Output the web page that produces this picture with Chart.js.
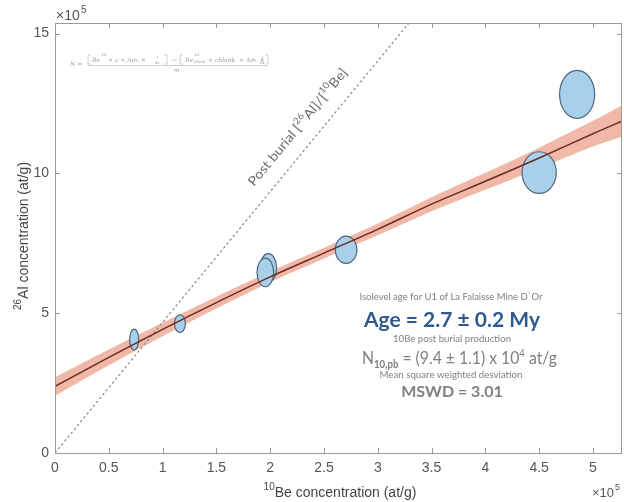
<!DOCTYPE html>
<html>
<head>
<meta charset="utf-8">
<script src="https://cdn.jsdelivr.net/npm/chart.js@4.4.1/dist/chart.umd.min.js"></script>
<style>
  html, body { margin: 0; padding: 0; background: #fff; }
  #wrap { width: 624px; height: 502px; position: relative; }
</style>
</head>
<body>
<div id="wrap"><canvas id="isochron" width="624" height="502"></canvas></div>
<script>
// samples (x in 1e5 at/g of 10Be, y in 1e5 at/g of 26Al) and their error half-axes
const beX   = [0.736, 1.161, 1.983, 1.955, 2.706, 4.50, 4.853];
const alY   = [4.06, 4.625, 6.62, 6.46, 7.27, 10.03, 12.825];
const beErr = [0.042, 0.051, 0.077, 0.077, 0.10, 0.159, 0.163];
const alErr = [0.37, 0.316, 0.51, 0.51, 0.49, 0.745, 0.86];

// isochron fit and its envelope
const fitX      = [0, 0.5, 1, 1.5, 2, 2.5, 3, 3.5, 4, 4.5, 5, 5.3];
const fitY      = [2.38, 3.42, 4.42, 5.38, 6.3, 7.15, 8.0, 8.9, 9.72, 10.55, 11.42, 11.92];
const bandUpper = [2.71, 3.70, 4.66, 5.59, 6.49, 7.34, 8.21, 9.15, 10.02, 10.92, 11.88, 12.49];
const bandLower = [2.05, 3.14, 4.18, 5.17, 6.11, 6.96, 7.79, 8.65, 9.42, 10.18, 10.96, 11.35];

// post burial ratio line
const ratioX = [0, 3.29];
const ratioY = [0, 15.38];

// tick values
const xTicks = [0, 0.5, 1, 1.5, 2, 2.5, 3, 3.5, 4, 4.5, 5];
const yTicks = [0, 5, 10, 15];

const pts = (xs, ys) => xs.map((x, i) => ({ x: x, y: ys[i] }));

function fixedTicks(values) {
    return function(scale) {
        scale.ticks = values.map(v => ({ value: v }));
    };
}

const axisGray = '#9a9a9a';
const labelGray = '#555';

// error ellipses, drawn just before the fitted line
const ellipsePlugin = {
    id: 'ellipses',
    beforeDatasetDraw(chart, args) {
        if (args.meta.label !== 'fit') return;
        const { ctx, chartArea, scales } = chart;
        ctx.save();
        ctx.beginPath();
        ctx.rect(chartArea.left, chartArea.top, chartArea.right - chartArea.left, chartArea.bottom - chartArea.top);
        ctx.clip();
        beX.forEach((x, i) => {
            const cx = scales.x.getPixelForValue(x);
            const cy = scales.y.getPixelForValue(alY[i]);
            const rx = Math.abs(scales.x.getPixelForValue(x + beErr[i]) - cx);
            const ry = Math.abs(scales.y.getPixelForValue(alY[i] + alErr[i]) - cy);
            ctx.beginPath();
            ctx.ellipse(cx, cy, rx, ry, 0, 0, Math.PI * 2);
            ctx.fillStyle = '#a9d0ea';
            ctx.fill();
            ctx.lineWidth = 1.2;
            ctx.strokeStyle = '#4d6577';
            ctx.stroke();
        });
        ctx.restore();
    }
};

// box, inward ticks, titles and annotation text
const decorPlugin = {
    id: 'decor',
    afterDraw(chart) {
        const { ctx, chartArea: a, scales } = chart;
        ctx.save();
        ctx.strokeStyle = axisGray;
        ctx.lineWidth = 1;
        ctx.strokeRect(a.left + 0.5, a.top + 0.5, a.right - a.left - 1, a.bottom - a.top);
        ctx.beginPath();
        scales.x.ticks.forEach(t => {
            const px = Math.round(scales.x.getPixelForValue(t.value)) + 0.5;
            ctx.moveTo(px, a.bottom); ctx.lineTo(px, a.bottom - 5);
            ctx.moveTo(px, a.top); ctx.lineTo(px, a.top + 5);
        });
        scales.y.ticks.forEach(t => {
            const py = Math.round(scales.y.getPixelForValue(t.value)) + 0.5;
            ctx.moveTo(a.left, py); ctx.lineTo(a.left + 5, py);
            ctx.moveTo(a.right, py); ctx.lineTo(a.right - 5, py);
        });
        ctx.stroke();

        // exponent marks
        ctx.fillStyle = labelGray;
        ctx.textBaseline = 'alphabetic';
        ctx.textAlign = 'left';
        ctx.font = '14px "Liberation Sans"';
        ctx.fillText('\u00d710', 56, 20);
        ctx.font = '10px "Liberation Sans"';
        ctx.fillText('5', 81, 13);
        ctx.font = '13px "Liberation Sans"';
        ctx.fillText('\u00d710', 592, 497);
        ctx.font = '9px "Liberation Sans"';
        ctx.fillText('5', 615, 490);

        // axis titles
        ctx.fillStyle = '#444';
        ctx.font = '10px "Liberation Sans"';
        let w1 = ctx.measureText('10').width;
        ctx.font = '14px "Liberation Sans"';
        let w2 = ctx.measureText('Be concentration (at/g)').width;
        let sx = 340 - (w1 + w2) / 2;
        ctx.font = '10px "Liberation Sans"';
        ctx.fillText('10', sx, 490);
        ctx.font = '14px "Liberation Sans"';
        ctx.fillText('Be concentration (at/g)', sx + w1, 497);

        ctx.save();
        ctx.translate(28, 236);
        ctx.rotate(-Math.PI / 2);
        ctx.font = '10px "Liberation Sans"';
        w1 = ctx.measureText('26').width;
        ctx.font = '14px "Liberation Sans"';
        w2 = ctx.measureText('Al concentration (at/g)').width;
        sx = -(w1 + w2) / 2;
        ctx.font = '10px "Liberation Sans"';
        ctx.fillText('26', sx, -7);
        ctx.font = '14px "Liberation Sans"';
        ctx.fillText('Al concentration (at/g)', sx + w1, 0);
        ctx.restore();

        // formula
        ctx.fillStyle = '#9a9a9a';
        ctx.strokeStyle = '#b0b0b0';
        ctx.lineWidth = 0.6;
        ctx.font = 'italic 6px "DejaVu Serif"';
        ctx.fillText('N =', 70, 66);
        ctx.fillText('Be', 92, 62);
        ctx.fillText('\u00d7 c \u00d7 Am. \u00d7', 108, 62);
        ctx.fillText('Be', 185, 62);
        ctx.fillText('\u00d7 cblank  \u00d7 Am. \u00d7', 208, 62);
        ctx.font = 'italic 4px "DejaVu Serif"';
        ctx.fillText('10', 101, 56);
        ctx.fillText('10', 194, 56);
        ctx.fillText('blank', 194, 63);
        ctx.fillText('1', 156, 59); ctx.fillText('At', 155, 64);
        ctx.fillText('1', 261, 59); ctx.fillText('At', 260, 64);
        ctx.font = 'italic 6px "DejaVu Serif"';
        ctx.fillText('\u2212', 172, 62);
        ctx.fillText('m', 174, 72);
        ctx.beginPath();
        ctx.moveTo(88, 65.5); ctx.lineTo(268, 65.5);
        ctx.moveTo(88, 55); ctx.lineTo(88, 64); ctx.moveTo(88, 55); ctx.lineTo(91, 55); ctx.moveTo(88, 64); ctx.lineTo(91, 64);
        ctx.moveTo(167, 55); ctx.lineTo(167, 64); ctx.moveTo(167, 55); ctx.lineTo(164, 55); ctx.moveTo(167, 64); ctx.lineTo(164, 64);
        ctx.moveTo(180, 55); ctx.lineTo(180, 64); ctx.moveTo(180, 55); ctx.lineTo(183, 55); ctx.moveTo(180, 64); ctx.lineTo(183, 64);
        ctx.moveTo(268, 55); ctx.lineTo(268, 64); ctx.moveTo(268, 55); ctx.lineTo(265, 55); ctx.moveTo(268, 64); ctx.lineTo(265, 64);
        ctx.stroke();

        // label along the ratio line
        ctx.save();
        ctx.translate(254, 187);
        ctx.rotate(-50.5 * Math.PI / 180);
        const parts = [
            ['Post burial [', 13, 0], ['26', 9, -6], ['Al]/[', 13, 0], ['10', 9, -6], ['Be]', 13, 0]
        ];
        let total = 0;
        parts.forEach(p => { ctx.font = p[1] + 'px Lato'; total += ctx.measureText(p[0]).width; });
        ctx.scale(148 / total, 1);
        ctx.fillStyle = '#6e6e6e';
        let cx = 0;
        parts.forEach(p => {
            ctx.font = p[1] + 'px Lato';
            ctx.fillText(p[0], cx, p[2]);
            cx += ctx.measureText(p[0]).width;
        });
        ctx.restore();

        // age annotation
        ctx.textAlign = 'center';
        ctx.fillStyle = '#7f7f7f';
        ctx.font = '10px Lato';
        ctx.fillText('Isolevel age for U1 of La Falaisse Mine D`Or', 451, 300, 183);
        ctx.fillStyle = '#2f5a8c';
        ctx.font = 'bold 21px Lato';
        ctx.fillText('Age = 2.7 \u00b1 0.2 My', 452, 327, 180);
        ctx.fillStyle = '#7f7f7f';
        ctx.font = '10px Lato';
        ctx.fillText('10Be post burial production', 452, 342, 118);
        ctx.fillText('Mean square weighted desviation', 451, 378, 143);
        ctx.font = 'bold 16px Lato';
        ctx.fillText('MSWD = 3.01', 452, 397, 102);

        // N10,pb line built from pieces
        const np = [
            ['N', '18px Lato', 0], ['10,pb', 'bold 11px Lato', 4], [' = (9.4 \u00b1 1.1) x 10', '18px Lato', 0],
            ['4', '11px Lato', -7], [' at/g', '18px Lato', 0]
        ];
        ctx.textAlign = 'left';
        let nw = 0;
        np.forEach(p => { ctx.font = p[1]; nw += ctx.measureText(p[0]).width; });
        ctx.save();
        ctx.translate(362, 364);
        ctx.scale(195 / nw, 1);
        let nx = 0;
        np.forEach(p => {
            ctx.font = p[1];
            ctx.fillText(p[0], nx, p[2]);
            nx += ctx.measureText(p[0]).width;
        });
        ctx.restore();
        ctx.restore();
    }
};

const ctx = document.getElementById('isochron').getContext('2d');
const chart = new Chart(ctx, {
    type: 'scatter',
    data: {
        datasets: [{
            label: 'fit',
            data: pts(fitX, fitY),
            showLine: true,
            borderColor: '#6b2b22',
            borderWidth: 1.5,
            pointRadius: 0,
            tension: 0.3,
            order: 1
        }, {
            label: 'ratio',
            data: pts(ratioX, ratioY),
            showLine: true,
            borderColor: '#8a8a8a',
            borderWidth: 1.2,
            borderDash: [2.5, 2.5],
            pointRadius: 0,
            order: 2
        }, {
            label: 'upper',
            data: pts(fitX, bandUpper),
            showLine: true,
            borderWidth: 0,
            borderColor: 'rgba(0,0,0,0)',
            backgroundColor: 'rgba(238, 160, 138, 0.75)',
            fill: '+1',
            pointRadius: 0,
            tension: 0.3,
            order: 3
        }, {
            label: 'lower',
            data: pts(fitX, bandLower),
            showLine: true,
            borderWidth: 0,
            borderColor: 'rgba(0,0,0,0)',
            pointRadius: 0,
            tension: 0.3,
            order: 4
        }]
    },
    options: {
        responsive: false,
        animation: false,
        layout: { padding: { top: 23, right: 2, left: 0, bottom: 0 } },
        plugins: {
            legend: { display: false },
            tooltip: { enabled: false }
        },
        scales: {
            x: {
                type: 'linear',
                min: 0,
                max: 5.27,
                afterBuildTicks: fixedTicks(xTicks),
                afterFit(scale) { scale.height = 49; },
                grid: { drawOnChartArea: false, drawTicks: false },
                border: { display: false },
                ticks: {
                    color: labelGray,
                    padding: 7,
                    maxRotation: 0,
                    autoSkip: false,
                    callback: v => String(v),
                    font: { family: '"Liberation Sans"', size: 14 }
                }
            },
            y: {
                type: 'linear',
                min: 0,
                max: 15.38,
                afterBuildTicks: fixedTicks(yTicks),
                afterFit(scale) { scale.width = 55; },
                grid: { drawOnChartArea: false, drawTicks: false },
                border: { display: false },
                ticks: {
                    color: labelGray,
                    padding: 6,
                    autoSkip: false,
                    callback: v => String(v),
                    font: { family: '"Liberation Sans"', size: 14 }
                }
            }
        }
    },
    plugins: [ellipsePlugin, decorPlugin]
});
</script>
</body>
</html>
